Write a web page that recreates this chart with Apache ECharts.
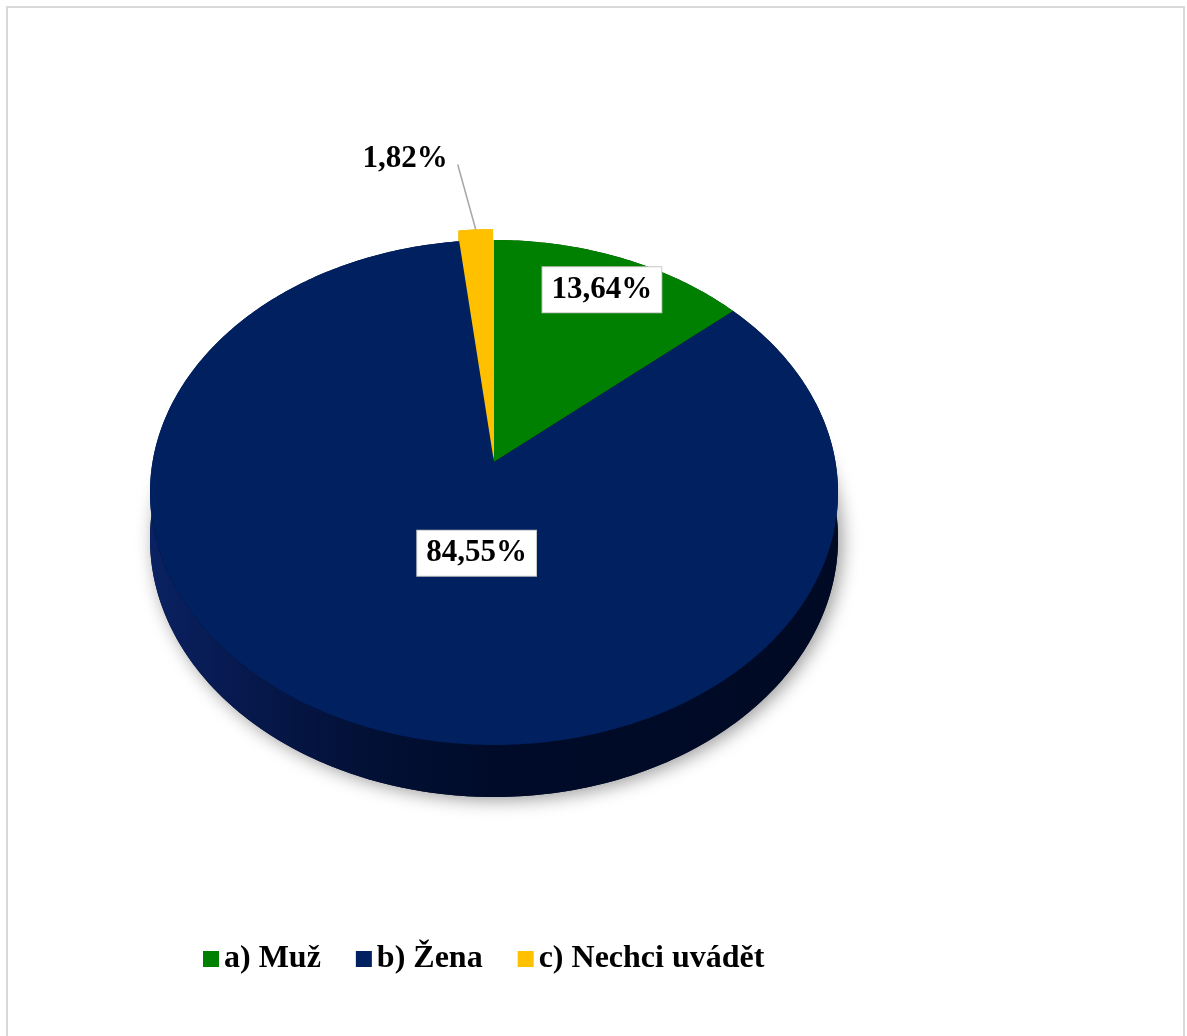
<!DOCTYPE html>
<html>
<head>
<meta charset="utf-8">
<script src="https://cdn.jsdelivr.net/npm/echarts@6/dist/echarts.min.js"></script>
<style>
  html, body { margin: 0; padding: 0; background: #ffffff; }
  #chart { width: 1187px; height: 1036px; }
</style>
</head>
<body>
<div id="chart"></div>
<script>
// Respondents by gender
const categories = ['a) Muž', 'b) Žena', 'c) Nechci uvádět'];
const values = [13.64, 84.55, 1.82];
const sliceColors = ['#008000', '#002060', '#FFC000'];

// Tilted 3D disc: centre of the top face, radii, perspective strength and thickness
const CX = 494, CY = 462, RX = 341.5, RY = 248.8, PERSP = 0.1208, DEPTH = 45.7;
const EXPLODE = [0, 0, 0.055];
const FONT = '"Liberation Serif", "Times New Roman", serif';

const total = values.reduce((a, b) => a + b, 0);
const startAngles = [];
(function () {
  let acc = 0;
  values.forEach(v => { startAngles.push(acc / total * 360); acc += v; });
})();

// theta: degrees clockwise from 12 o'clock, r: radial fraction, (ox, oy): offset on the disc
function project(theta, r, ox, oy) {
  const t = theta * Math.PI / 180;
  const u = r * Math.sin(t) + ox;
  const v = -r * Math.cos(t) + oy;
  const s = 1 / (1 - PERSP * v);
  return { x: CX + RX * u * s, y: CY + RY * v * s, drop: DEPTH * s };
}

function fmt(v) { return v.toFixed(2).replace('.', ',') + '%'; }

// Side-wall shading, lit from the left
const wallFills = [
  { type: 'linear', x: 150, y: 0, x2: 840, y2: 0, global: true,
    colorStops: [{ offset: 0, color: '#006400' }, { offset: 1, color: '#003000' }] },
  { type: 'linear', x: 150, y: 0, x2: 840, y2: 0, global: true,
    colorStops: [
      { offset: 0, color: '#0a2262' },
      { offset: 0.12, color: '#07194f' },
      { offset: 0.3, color: '#031137' },
      { offset: 0.5, color: '#000b29' },
      { offset: 1, color: '#000a24' }
    ] },
  { type: 'linear', x: 150, y: 0, x2: 840, y2: 0, global: true,
    colorStops: [{ offset: 0, color: '#f2b600' }, { offset: 1, color: '#e0a800' }] }
];

// Label placement: position along the slice's arc and radial fraction
const labelPlacement = [
  { along: 0.5, radial: 0.83, inside: true },
  { along: 0.456, radial: 0.355, inside: true },
  { along: 0.5, radial: 1.0, inside: false, lineDx: -18, lineDy: -65, textDx: -10, textDy: -6 }
];

function sectorPoints(a0, span, ox, oy) {
  const n = Math.max(2, Math.ceil(span / 0.75));
  const arc = [];
  for (let k = 0; k <= n; k++) arc.push(project(a0 + span * k / n, 1, ox, oy));
  return arc;
}

function makeRender(i) {
  return function (params, api) {
    const a0 = startAngles[i];
    const span = values[i] / total * 360;
    const mid = a0 + span / 2;
    const mr = mid * Math.PI / 180;
    const ox = EXPLODE[i] * Math.sin(mr), oy = -EXPLODE[i] * Math.cos(mr);
    const arc = sectorPoints(a0, span, ox, oy);
    const apex = project(0, 0, ox, oy);
    const children = [];

    // soft shadow under the whole disc
    if (i === 1) {
      const ring = [];
      for (let k = 0; k < 360; k++) {
        const p = project(k, 1, 0, 0);
        ring.push([p.x, p.y + p.drop]);
      }
      children.push({
        type: 'polygon', z2: 1, silent: true,
        shape: { points: ring },
        style: { fill: '#000a24', shadowBlur: 18, shadowColor: 'rgba(0,0,0,0.4)', shadowOffsetX: 4, shadowOffsetY: 3 }
      });
    }

    // outer wall
    const band = arc.map(p => [p.x, p.y]).concat(arc.slice().reverse().map(p => [p.x, p.y + p.drop]));
    children.push({ type: 'polygon', z2: 2, silent: true, shape: { points: band }, style: { fill: wallFills[i] } });

    // an exploded slice also shows its bottom and cut faces
    if (EXPLODE[i] > 0) {
      const bottom = [[apex.x, apex.y + apex.drop]].concat(arc.map(p => [p.x, p.y + p.drop]));
      children.push({ type: 'polygon', z2: 2, silent: true, shape: { points: bottom }, style: { fill: wallFills[i] } });
      [arc[0], arc[arc.length - 1]].forEach(p => {
        children.push({
          type: 'polygon', z2: 3, silent: true,
          shape: { points: [[apex.x, apex.y], [p.x, p.y], [p.x, p.y + p.drop], [apex.x, apex.y + apex.drop]] },
          style: { fill: sliceColors[i] }
        });
      });
      // the slice's body seen through the gap it leaves in the disc
      const home = sectorPoints(a0, span, 0, 0);
      const c0 = project(0, 0, 0, 0);
      children.push({
        type: 'polygon', z2: 3, silent: true,
        shape: { points: [[c0.x, c0.y]].concat(home.map(p => [p.x, p.y])) },
        style: { fill: sliceColors[i] }
      });
    }

    // top face
    const top = [[apex.x, apex.y]].concat(arc.map(p => [p.x, p.y]));
    children.push({ type: 'polygon', z2: 4, silent: true, shape: { points: top }, style: { fill: sliceColors[i] } });

    // value label
    const lp = labelPlacement[i];
    const la = a0 + span * lp.along;
    const anchor = project(la, lp.radial, ox, oy);
    if (lp.inside) {
      children.push({
        type: 'text', z2: 10, silent: true,
        style: {
          text: fmt(values[i]), x: anchor.x, y: anchor.y,
          align: 'center', verticalAlign: 'middle',
          font: 'bold 31px ' + FONT, fill: '#000000',
          backgroundColor: '#ffffff', borderColor: '#c8c8c8', borderWidth: 1,
          padding: [8, 9, 6, 9]
        }
      });
    } else {
      const ex = anchor.x + lp.lineDx, ey = anchor.y + lp.lineDy;
      children.push({
        type: 'line', z2: 9, silent: true,
        shape: { x1: anchor.x, y1: anchor.y, x2: ex, y2: ey },
        style: { stroke: '#a6a6a6', lineWidth: 1.5 }
      });
      children.push({
        type: 'text', z2: 10, silent: true,
        style: {
          text: fmt(values[i]), x: ex + lp.textDx, y: ey + lp.textDy,
          align: 'right', verticalAlign: 'middle',
          font: 'bold 31px ' + FONT, fill: '#000000'
        }
      });
    }
    return { type: 'group', children: children };
  };
}

const chart = echarts.init(document.getElementById('chart'), null, { renderer: 'canvas' });
chart.setOption({
  backgroundColor: '#ffffff',
  animation: false,
  graphic: [{
    type: 'rect', silent: true, z: 0,
    shape: { x: 7, y: 7, width: 1177, height: 1045 },
    style: { fill: 'none', stroke: '#d9d9d9', lineWidth: 2 }
  }],
  legend: {
    data: categories,
    left: 198,
    top: 938,
    icon: 'rect',
    itemWidth: 16,
    itemHeight: 16,
    itemGap: 35,
    textStyle: { fontFamily: FONT, fontWeight: 'bold', fontSize: 32, color: '#000000' }
  },
  series: categories.map((name, i) => ({
    type: 'custom',
    name: name,
    coordinateSystem: 'none',
    data: [[values[i]]],
    itemStyle: { color: sliceColors[i] },
    renderItem: makeRender(i)
  }))
});
</script>
</body>
</html>
